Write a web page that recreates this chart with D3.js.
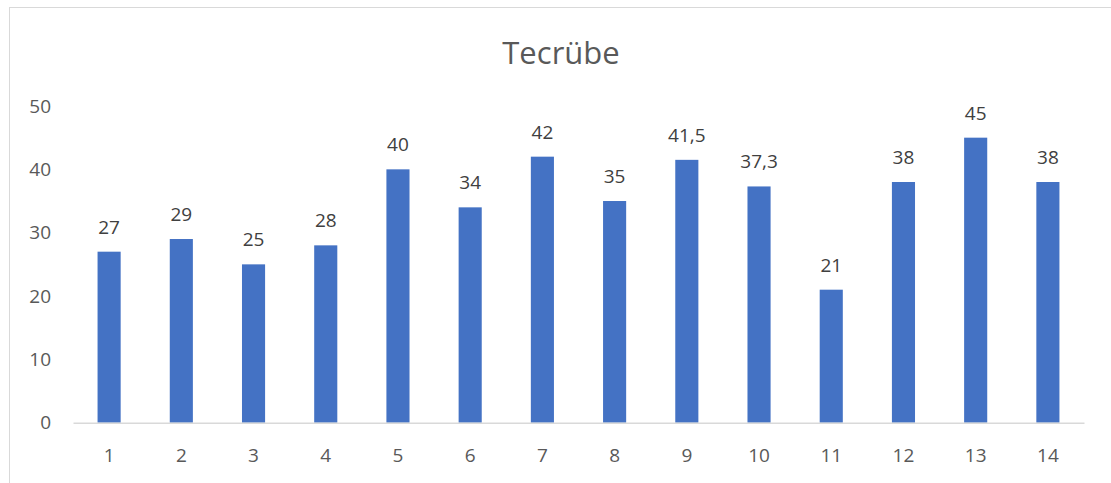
<!DOCTYPE html>
<html><head><meta charset="utf-8">
<script src="https://cdn.jsdelivr.net/npm/d3@7"></script>
<style>
html,body{margin:0;padding:0;background:#fff;}
text{font-family:"Open Sans","Noto Sans",sans-serif;}
</style></head>
<body>
<svg id="c" width="1111" height="483"></svg>
<script>
const title = "Tecrübe";
const categories = ["1","2","3","4","5","6","7","8","9","10","11","12","13","14"];
const values = [27,29,25,28,40,34,42,35,41.5,37.3,21,38,45,38];
const yTicks = [0,10,20,30,40,50];

const svg = d3.select("#c");
// chart border (cropped)
svg.append("rect").attr("x",9.5).attr("y",7.5).attr("width",1200).attr("height",600)
  .attr("fill","#fff").attr("stroke","#d9d9d9").attr("stroke-width",1);

const x = d3.scaleBand().domain(categories).range([73,1084]).paddingInner(0.68).paddingOuter(0.34);
const y = d3.scaleLinear().domain([0,50]).range([422.7,106]);

svg.append("text").attr("x",561).attr("y",52).attr("text-anchor","middle")
  .attr("dominant-baseline","central").attr("font-size",31).attr("fill","#595959").text(title);

const yAxis = d3.axisLeft(y).tickValues(yTicks).tickSize(0).tickPadding(0).tickFormat(d3.format("d"));
const gy = svg.append("g").attr("transform","translate(51,0)").call(yAxis);
gy.select(".domain").remove();
gy.selectAll("text").attr("font-size",19).attr("fill","#595959").attr("font-family",null);

svg.selectAll("rect.bar").data(values).join("rect").attr("class","bar")
  .attr("x",(d,i)=>x(categories[i])).attr("width",x.bandwidth())
  .attr("y",d=>y(d)).attr("height",d=>y(0)-y(d)).attr("fill","#4472C4");

const xAxis = d3.axisBottom(x).tickSize(0).tickPadding(0);
const gx = svg.append("g").attr("transform",`translate(0,${y(0)})`).call(xAxis);
gx.select(".domain").attr("stroke","#d9d9d9").attr("stroke-width",1.5);
gx.selectAll("text").attr("font-size",19).attr("fill","#595959").attr("font-family",null)
  .attr("dy",null).attr("y",32).attr("dominant-baseline","central");

const fmt = d => String(d).replace(".",",");
svg.selectAll("text.lbl").data(values).join("text").attr("class","lbl")
  .attr("x",(d,i)=>x(categories[i])+x.bandwidth()/2).attr("y",d=>y(d)-25)
  .attr("text-anchor","middle").attr("dominant-baseline","central")
  .attr("font-size",19).attr("fill","#404040").text(fmt);
</script>
</body></html>
